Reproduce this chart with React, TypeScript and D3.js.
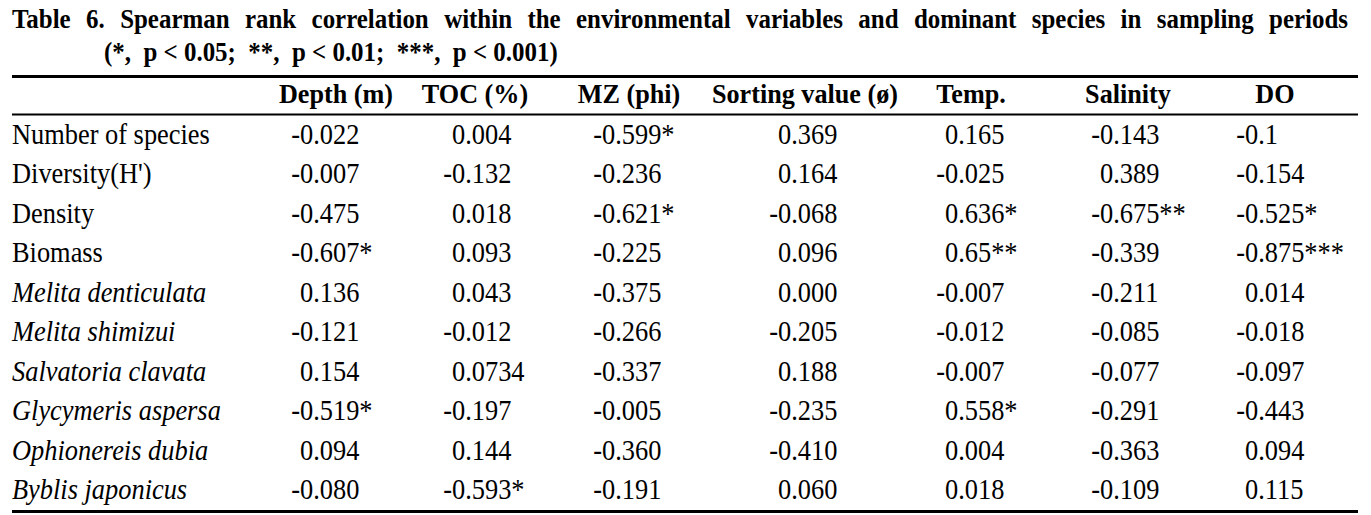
import React, { useEffect, useRef } from "react";
import * as d3 from "d3";

const titleLine1 = "Table 6. Spearman rank correlation within the environmental variables and dominant species in sampling periods";
const titleLine2 = "(*,  p < 0.05;  **,  p < 0.01;  ***,  p < 0.001)";

const columns = ["Depth (m)", "TOC (%)", "MZ (phi)", "Sorting value (ø)", "Temp.", "Salinity", "DO"];

const rowLabels = [
  "Number of species",
  "Diversity(H')",
  "Density",
  "Biomass",
  "Melita denticulata",
  "Melita shimizui",
  "Salvatoria clavata",
  "Glycymeris aspersa",
  "Ophionereis dubia",
  "Byblis japonicus",
];
const italicRows = [false, false, false, false, true, true, true, true, true, true];

const depth = ["-0.022", "-0.007", "-0.475", "-0.607*", "0.136", "-0.121", "0.154", "-0.519*", "0.094", "-0.080"];
const toc = ["0.004", "-0.132", "0.018", "0.093", "0.043", "-0.012", "0.0734", "-0.197", "0.144", "-0.593*"];
const mz = ["-0.599*", "-0.236", "-0.621*", "-0.225", "-0.375", "-0.266", "-0.337", "-0.005", "-0.360", "-0.191"];
const sorting = ["0.369", "0.164", "-0.068", "0.096", "0.000", "-0.205", "0.188", "-0.235", "-0.410", "0.060"];
const temp = ["0.165", "-0.025", "0.636*", "0.65**", "-0.007", "-0.012", "-0.007", "0.558*", "0.004", "0.018"];
const salinity = ["-0.143", "0.389", "-0.675**", "-0.339", "-0.211", "-0.085", "-0.077", "-0.291", "-0.363", "-0.109"];
const dO = ["-0.1", "-0.154", "-0.525*", "-0.875***", "0.014", "-0.018", "-0.097", "-0.443", "0.094", "0.115"];

const series = [depth, toc, mz, sorting, temp, salinity, dO];

const W = 1371;
const H = 515;
const FONT = "'Liberation Serif', 'Times New Roman', serif";
const TITLE_SX = 0.89;
const BODY_SX = 0.91;
const HEAD_SX = 0.97;

export default function App() {
  const t1 = useRef<SVGTextElement>(null);

  useEffect(() => {
    const el = t1.current;
    if (!el) return;
    el.setAttribute("word-spacing", "0");
    const len = el.getComputedTextLength();
    const gaps = titleLine1.split(" ").length - 1;
    const target = (1348 - 12) / TITLE_SX;
    const ws = (target - len) / gaps;
    el.setAttribute("word-spacing", String(ws));
  }, []);

  const headerCenters: Record<string, number> = {
    "Depth (m)": 336,
    "TOC (%)": 475,
    "MZ (phi)": 629,
    "Sorting value (ø)": 805,
    "Temp.": 971,
    "Salinity": 1128,
    "DO": 1275,
  };
  const digitStart = [300, 452, 602, 778, 945, 1100, 1245];
  const y = d3.scalePoint<string>().domain(rowLabels).range([136, 491]);

  const tr = (x: number, yy: number, sx: number) => `translate(${x},${yy}) scale(${sx},1)`;

  return (
    <svg width={W} height={H} style={{ display: "block", position: "absolute", left: 0, top: 0 }} fontFamily={FONT}>
      <rect width={W} height={H} fill="#fff" />
      <text ref={t1} transform={tr(12, 28, TITLE_SX)} fontSize={28} fontWeight="bold" fill="#000">
        {titleLine1}
      </text>
      <text transform={tr(104, 61, TITLE_SX)} fontSize={28} fontWeight="bold" fill="#000" style={{ whiteSpace: "pre" }}>
        {titleLine2}
      </text>
      <line x1={12} x2={1358} y1={76.5} y2={76.5} stroke="#000" strokeWidth={3} />
      <line x1={12} x2={1358} y1={114.5} y2={114.5} stroke="#000" strokeWidth={2} />
      <line x1={12} x2={1358} y1={511.5} y2={511.5} stroke="#000" strokeWidth={3} />
      {columns.map((c) => (
        <text key={c} transform={tr(headerCenters[c], 103, HEAD_SX)} fontSize={27} fontWeight="bold" textAnchor="middle" fill="#000">
          {c}
        </text>
      ))}
      {rowLabels.map((r, i) => (
        <text key={r} transform={tr(12, (y(r) ?? 0) + 8, BODY_SX)} fontSize={29} fontStyle={italicRows[i] ? "italic" : "normal"} fill="#000">
          {r}
        </text>
      ))}
      {series.map((vals, ci) =>
        vals.map((v, ri) => {
          const yy = (y(rowLabels[ri]) ?? 0) + 8;
          const neg = v.startsWith("-");
          const body = neg ? v.slice(1) : v;
          return (
            <g key={`${ci}-${ri}`} transform={tr(digitStart[ci], yy, BODY_SX)}>
              {neg && (
                <text x={0} y={0} fontSize={29} textAnchor="end" fill="#000">
                  -
                </text>
              )}
              <text x={0} y={0} fontSize={29} fill="#000">
                {body}
              </text>
            </g>
          );
        })
      )}
    </svg>
  );
}
